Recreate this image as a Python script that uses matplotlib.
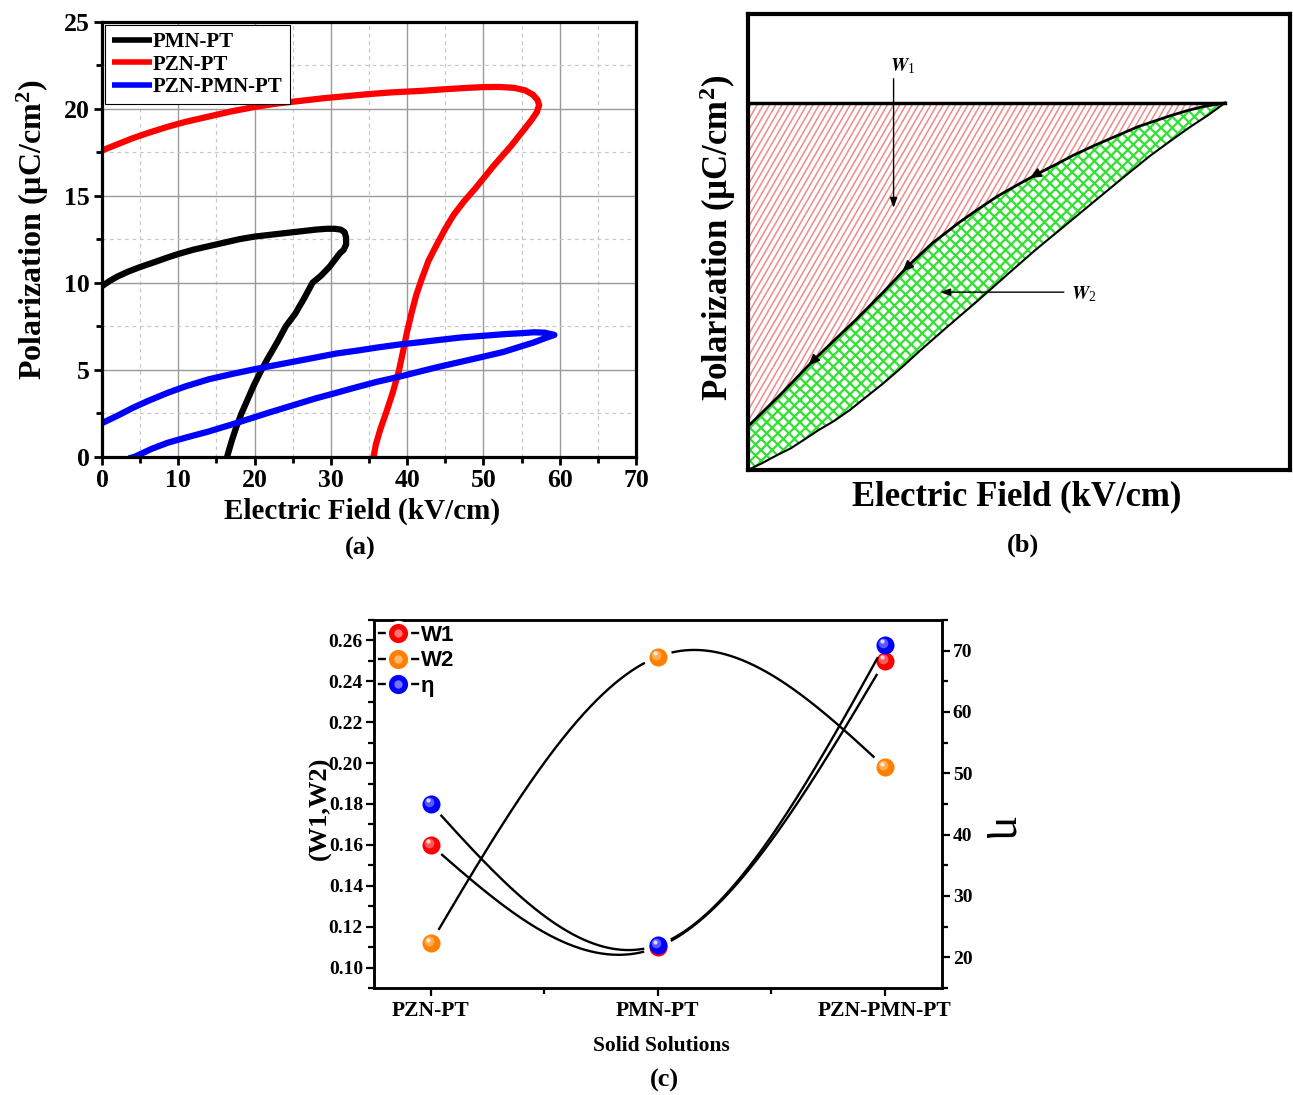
import numpy as np
import matplotlib
matplotlib.use('Agg')
import matplotlib.pyplot as plt
from matplotlib.lines import Line2D
from matplotlib.patches import Polygon
from matplotlib.collections import LineCollection
from matplotlib.legend_handler import HandlerTuple
from matplotlib.transforms import offset_copy
from matplotlib.ticker import MultipleLocator

plt.rcParams.update({
    'font.family': 'Liberation Serif',
    'font.weight': 'bold',
    'mathtext.fontset': 'stix',
    'mathtext.default': 'regular',
    'hatch.linewidth': 1.6,
    'axes.unicode_minus': False,
})

# ---------------- data: panel (a) P-E loops ----------------
pmn_E = [0, 1, 2, 3.5, 5, 7, 8.6, 10, 12, 14, 16, 18, 20, 22, 24, 26, 28, 29.5, 30.5, 31.3, 31.8, 32.0,
         32.0, 31.7, 31.2, 30.5, 29.8, 28.7, 27.6, 26.5, 25.3, 24.1, 23.0, 21.8, 20.8, 19.9, 19.0, 18.3, 17.6, 17.0, 16.4]
pmn_P = [9.8, 10.1, 10.35, 10.65, 10.9, 11.2, 11.45, 11.65, 11.9, 12.1, 12.3, 12.5, 12.65, 12.75, 12.85, 12.95, 13.05, 13.1, 13.1, 13.05, 12.9, 12.6,
         12.2, 11.9, 11.7, 11.3, 10.9, 10.4, 10.0, 9.1, 8.2, 7.5, 6.6, 5.7, 4.9, 4.1, 3.2, 2.5, 1.7, 0.9, 0.0]

pzn_E = [0, 2, 4, 6, 8.6, 11, 14, 17, 20, 23, 26, 29, 32, 35, 38, 41.7, 45, 48, 50, 52, 54, 55.5, 56.5, 57.1, 57.3, 57.0, 56.3,
         55.5, 54.6, 53.6, 52.5, 51.3, 50.2, 48.9, 47.5, 46.1, 45.0, 43.9, 42.8, 41.9, 41.2, 40.6, 40.0, 39.5, 38.9, 38.1, 37.3, 36.5, 35.9, 35.6]
pzn_P = [17.6, 17.95, 18.3, 18.6, 18.96, 19.25, 19.55, 19.85, 20.1, 20.3, 20.45, 20.6, 20.72, 20.84, 20.94, 21.02, 21.12, 21.2, 21.24, 21.25, 21.2, 21.05, 20.8, 20.5, 20.2, 19.8, 19.35,
         18.9, 18.4, 17.85, 17.3, 16.7, 16.1, 15.4, 14.7, 13.9, 13.1, 12.2, 11.26, 10.2, 9.3, 8.3, 7.2, 6.13, 4.9, 3.67, 2.6, 1.6, 0.7, 0.0]

pzpm_E = [0, 2, 4, 6, 8.6, 11, 14, 17, 19.7, 22, 25, 28, 30.7, 33.5, 36, 39, 41.7, 44, 47, 50, 53, 55, 56.6, 58.0, 59.3,
          58.0, 56.5, 55.0, 52.7, 50, 47, 44, 41.7, 39, 36, 33, 30.7, 28, 25, 22, 19.7, 17, 14, 11, 8.6, 6.5, 4.3, 3.5]
pzpm_P = [1.93, 2.35, 2.8, 3.2, 3.67, 4.05, 4.45, 4.75, 5.0, 5.2, 5.45, 5.7, 5.93, 6.1, 6.27, 6.45, 6.58, 6.7, 6.85, 6.95, 7.05, 7.1, 7.15, 7.13, 7.0,
          6.8, 6.55, 6.35, 6.03, 5.75, 5.45, 5.15, 4.9, 4.6, 4.3, 3.95, 3.67, 3.35, 2.95, 2.55, 2.23, 1.85, 1.45, 1.1, 0.8, 0.45, 0.0, -0.1]

# ---------------- data: panel (b) schematic (normalised) ----------------
top_P = 0.805
up_E = [0, 0.03, 0.06, 0.09, 0.12, 0.16, 0.2, 0.25, 0.297, 0.34, 0.389, 0.42, 0.46, 0.5, 0.537, 0.57, 0.6,
        0.64, 0.671, 0.72, 0.777, 0.81, 0.84, 0.865, 0.88]
up_P = [0.095, 0.13, 0.165, 0.202, 0.239, 0.285, 0.33, 0.39, 0.449, 0.497, 0.542, 0.568, 0.60, 0.627, 0.651, 0.671, 0.69,
        0.712, 0.728, 0.753, 0.776, 0.788, 0.797, 0.802, 0.805]
lo_E = [0, 0.025, 0.05, 0.08, 0.106, 0.13, 0.16, 0.19, 0.212, 0.25, 0.285, 0.318, 0.37, 0.424, 0.48, 0.53, 0.58,
        0.636, 0.69, 0.742, 0.78, 0.813, 0.85, 0.88]
lo_P = [0.0, 0.014, 0.03, 0.048, 0.068, 0.087, 0.108, 0.133, 0.154, 0.19, 0.226, 0.262, 0.316, 0.371, 0.43, 0.482, 0.531,
        0.586, 0.639, 0.689, 0.722, 0.75, 0.779, 0.805]

# ---------------- data: panel (c) ----------------
categories = ['PZN-PT', 'PMN-PT', 'PZN-PMN-PT']
W1 = [0.160, 0.110, 0.250]
W2 = [0.112, 0.252, 0.198]
eta = [45.0, 22.0, 71.0]

W, H = 1293, 1095
fig = plt.figure(figsize=(W / 100, H / 100), dpi=100)
fig.patch.set_facecolor('white')


def fx(x):
    return x / W


def fy(y):
    return 1 - y / H


def rect(l, t, r, b):
    return [fx(l), fy(b), fx(r) - fx(l), fy(t) - fy(b)]


# ======================= panel (a) =======================
ax = fig.add_axes(rect(102, 21.7, 636, 456.7))
ax.set_xlim(0, 70)
ax.set_ylim(0, 25)
ax.xaxis.set_major_locator(MultipleLocator(10))
ax.xaxis.set_minor_locator(MultipleLocator(5))
ax.yaxis.set_major_locator(MultipleLocator(5))
ax.yaxis.set_minor_locator(MultipleLocator(2.5))
ax.grid(which='major', color='#9a9a9a', lw=1.0, ls='-')
ax.grid(which='minor', color='#c8c8c8', lw=0.9, ls=(0, (3, 3)))
ax.set_axisbelow(True)
ax.tick_params(which='major', direction='out', length=6, width=2, labelsize=18.5, pad=3)
ax.tick_params(which='minor', direction='out', length=4, width=2)
ax.tick_params(top=False, right=False)
for s in ax.spines.values():
    s.set_linewidth(2.3)
kw = dict(lw=4.5, solid_capstyle='butt', solid_joinstyle='round')
ax.plot(pmn_E, pmn_P, color='black', label='PMN-PT', **kw)
ax.plot(pzn_E, pzn_P, color='red', label='PZN-PT', **kw)
ax.plot(pzpm_E, pzpm_P, color='blue', label='PZN-PMN-PT', **kw)
leg = ax.legend(loc='upper left', bbox_to_anchor=(0, 1), borderaxespad=0.15,
                prop={'family': 'Liberation Serif', 'weight': 'bold', 'size': 15},
                handlelength=1.9, handletextpad=0.05, labelspacing=0.12,
                borderpad=0.35, fancybox=False, framealpha=1, edgecolor='black')
leg.get_frame().set_linewidth(0.8)
for l in leg.get_lines():
    l.set_linewidth(4)
fig.text(fx(362), fy(511), 'Electric Field (kV/cm)', ha='center', va='center', fontsize=21)
fig.text(fx(33), fy(230), 'Polarization (µC/cm$^2$)', ha='center', va='center',
         rotation=90, fontsize=23)
fig.text(fx(360), fy(548), '(a)', ha='center', va='center', fontsize=19)

# ======================= panel (b) =======================
bl, bt, br, bb = 747.7, 14, 1290, 470
bx = fig.add_axes(rect(bl, bt, br, bb))
bx.set_xlim(0, 1)
bx.set_ylim(0, 1)
bx.set_xticks([])
bx.set_yticks([])
for s in bx.spines.values():
    s.set_linewidth(3)

# red region (W1): steep diagonal hatching clipped to the region
red_poly = Polygon(np.column_stack([list(up_E) + [up_E[-1], 0], list(up_P) + [top_P, top_P]]),
                   closed=True, facecolor='none', edgecolor='none', transform=bx.transData)
bx.add_patch(red_poly)
slope = np.tan(np.radians(60)) * (br - bl) / (bb - bt)
step = 6.2 / (br - bl)
segs = [[(x0, 0), (x0 + 1.0 / slope, 1.0)] for x0 in np.arange(-0.6, 1.0, step)]
lc = LineCollection(segs, colors='#f08a8a', linewidths=1.1, transform=bx.transData)
bx.add_collection(lc)
lc.set_clip_path(red_poly)

# green region (W2): cross hatching
grn_x = list(up_E) + list(lo_E[::-1])
grn_y = list(up_P) + list(lo_P[::-1])
bx.fill(grn_x, grn_y, facecolor='none', edgecolor='#33e033', hatch='xxx', lw=0)

bx.plot([0, up_E[-1]], [top_P, top_P], color='black', lw=2.5)
bx.plot(up_E, up_P, color='black', lw=2.0, solid_joinstyle='round')
bx.plot(lo_E, lo_P, color='black', lw=1.5, solid_joinstyle='round')
for tip, tail in [((0.52, 0.640), (0.56, 0.667)), ((0.285, 0.435), (0.32, 0.475)),
                  ((0.112, 0.229), (0.135, 0.257))]:
    bx.annotate('', xy=tip, xytext=tail,
                arrowprops=dict(arrowstyle='-|>,head_length=0.7,head_width=0.3',
                                color='black', lw=1.0, shrinkA=0, shrinkB=0))
bx.annotate('', xy=(0.269, 0.575), xytext=(0.269, 0.858),
            arrowprops=dict(arrowstyle='-|>,head_length=0.6,head_width=0.22',
                            color='black', lw=1.0, shrinkA=0, shrinkB=0))
bx.annotate('', xy=(0.355, 0.39), xytext=(0.583, 0.39),
            arrowprops=dict(arrowstyle='-|>,head_length=0.6,head_width=0.22',
                            color='black', lw=1.0, shrinkA=0, shrinkB=0))
bx.text(0.285, 0.885, r'$\mathit{W}_1$', ha='center', va='center', fontsize=14,
        family='Liberation Serif', weight='normal')
bx.text(0.62, 0.385, r'$\mathit{W}_2$', ha='center', va='center', fontsize=14,
        family='Liberation Serif', weight='normal')
fig.text(fx(1017), fy(497), 'Electric Field (kV/cm)', ha='center', va='center', fontsize=25)
fig.text(fx(718), fy(238), 'Polarization (µC/cm$^2$)', ha='center', va='center',
         rotation=90, fontsize=25)
fig.text(fx(1023), fy(545), '(b)', ha='center', va='center', fontsize=19)

# ======================= panel (c) =======================
cx = fig.add_axes(rect(374, 620, 941.7, 988))
cx.set_xlim(-0.25, 2.25)
cx.set_ylim(0.09, 0.27)
cx2 = cx.twinx()
cx2.set_ylim(15, 75)
xpos = np.arange(len(categories))
cx.set_xticks(xpos)
cx.set_xticklabels(categories)
cx.xaxis.set_minor_locator(MultipleLocator(0.5))
cx.yaxis.set_minor_locator(MultipleLocator(0.01))
cx.set_yticks(np.arange(0.10, 0.261, 0.02))
cx.yaxis.set_major_formatter(matplotlib.ticker.FormatStrFormatter('%.2f'))
cx2.yaxis.set_minor_locator(MultipleLocator(5))
cx2.set_yticks([20, 30, 40, 50, 60, 70])
for a in (cx, cx2):
    a.tick_params(which='major', direction='out', length=6, width=1.6, labelsize=14, pad=2)
    a.tick_params(which='minor', direction='out', length=4, width=1.6)
    for s in a.spines.values():
        s.set_linewidth(1.8)
cx.tick_params(axis='x', which='major', labelsize=15.5, pad=3)
cx.tick_params(top=False, right=False)
cx2.tick_params(top=False, left=False)


def natural_spline(x, y, xs):
    x = np.asarray(x, float)
    y = np.asarray(y, float)
    n = len(x)
    h = np.diff(x)
    A = np.zeros((n, n))
    r = np.zeros(n)
    A[0, 0] = 1
    A[-1, -1] = 1
    for i in range(1, n - 1):
        A[i, i - 1] = h[i - 1]
        A[i, i] = 2 * (h[i - 1] + h[i])
        A[i, i + 1] = h[i]
        r[i] = 6 * ((y[i + 1] - y[i]) / h[i] - (y[i] - y[i - 1]) / h[i - 1])
    M = np.linalg.solve(A, r)
    out = np.empty_like(xs)
    for k, xv in enumerate(xs):
        i = min(max(np.searchsorted(x, xv) - 1, 0), n - 2)
        t0 = x[i + 1] - xv
        t1 = xv - x[i]
        out[k] = (M[i] * t0 ** 3 / (6 * h[i]) + M[i + 1] * t1 ** 3 / (6 * h[i])
                  + (y[i] / h[i] - M[i] * h[i] / 6) * t0
                  + (y[i + 1] / h[i] - M[i + 1] * h[i] / 6) * t1)
    return out


xs = np.linspace(0, 2, 600)
colors = {'W1': '#ff0000', 'W2': '#ff8000', 'eta': '#0000ff'}


def light(c, f):
    rgb = np.array(matplotlib.colors.to_rgb(c))
    return tuple(rgb + (1 - rgb) * f)


def draw_series(a, yvals, col):
    ys = natural_spline(xpos, yvals, xs)
    disp = a.transData.transform(np.column_stack([xs, ys]))
    pts = a.transData.transform(np.column_stack([xpos, yvals]))
    mask = np.zeros(len(xs), bool)
    for p in pts:
        mask |= np.hypot(disp[:, 0] - p[0], disp[:, 1] - p[1]) < 15
    ys_m = ys.copy()
    ys_m[mask] = np.nan
    a.plot(xs, ys_m, color='black', lw=1.7, zorder=2)
    a.plot(xpos, yvals, ls='none', marker='o', ms=13, mfc=col, mec=col, mew=0, zorder=3)
    t1 = offset_copy(a.transData, fig=fig, x=-2, y=2, units='dots')
    a.plot(xpos, yvals, ls='none', marker='o', ms=7, mfc=light(col, 0.35), mew=0,
           transform=t1, zorder=4)
    t2 = offset_copy(a.transData, fig=fig, x=-3, y=3.5, units='dots')
    a.plot(xpos, yvals, ls='none', marker='o', ms=3, mfc=light(col, 0.85), mew=0,
           transform=t2, zorder=5)


fig.canvas.draw()
draw_series(cx, W1, colors['W1'])
draw_series(cx, W2, colors['W2'])
draw_series(cx2, eta, colors['eta'])

handles = []
for key in ['W1', 'W2', 'eta']:
    c = colors[key]
    h1 = Line2D([], [], color='black', lw=1.7, marker='o', ms=16, mfc=c, mec='white', mew=2.2)
    h2 = Line2D([], [], ls='none', marker='o', ms=6, mfc=light(c, 0.45), mew=0)
    handles.append((h1, h2))
cleg = cx2.legend(handles, ['W1', 'W2', 'η'], loc='upper left', bbox_to_anchor=(0.0, 1.0),
                  frameon=False, handler_map={tuple: HandlerTuple(ndivide=1)},
                  prop={'family': 'Liberation Sans', 'weight': 'bold', 'size': 16},
                  handlelength=1.75, handletextpad=0.15, labelspacing=0.2,
                  borderaxespad=0.1, borderpad=0.12)

fig.text(fx(661), fy(1046), 'Solid Solutions', ha='center', va='center', fontsize=15.5)
fig.text(fx(320), fy(808), '(W1,W2)', ha='center', va='center', rotation=90, fontsize=19)
fig.text(fx(1005), fy(828), 'η', ha='center', va='center', rotation=270, fontsize=32,
         weight='normal')
fig.text(fx(664), fy(1080), '(c)', ha='center', va='center', fontsize=19)

fig.savefig('out.png', dpi=100, facecolor='white')
